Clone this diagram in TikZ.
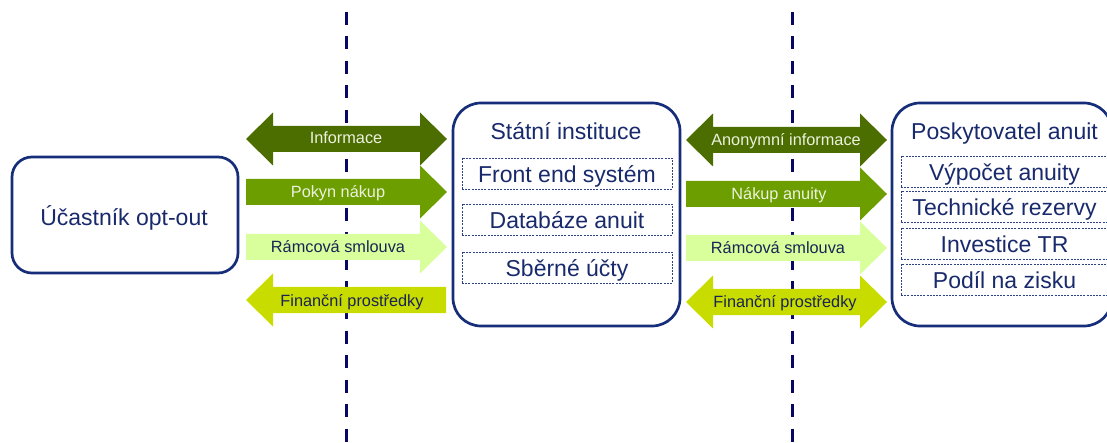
\documentclass[tikz,border=0pt]{standalone}
\usepackage{fontspec}
\setmainfont{Liberation Sans}
\definecolor{boxnavy}{RGB}{22,46,122}
\definecolor{txtnavy}{RGB}{25,42,108}
\definecolor{linenavy}{RGB}{8,8,100}
\definecolor{subnavy}{RGB}{45,65,135}
\definecolor{gdark}{RGB}{76,110,0}
\definecolor{gmid}{RGB}{108,158,0}
\definecolor{glight}{RGB}{216,255,155}
\definecolor{gyellow}{RGB}{200,220,0}
\definecolor{lbllight}{RGB}{236,242,222}
\definecolor{lbldark}{RGB}{25,35,85}

% arrow outlines: shaft half height 13, head half height 26.5, head length 27
\newcommand\rightarr[4]{% x start, x tip, y centre, colour
  \fill[#4] (#1,#3-13) -- (#2-27,#3-13) -- (#2-27,#3-26.5) -- (#2,#3)
    -- (#2-27,#3+26.5) -- (#2-27,#3+13) -- (#1,#3+13) -- cycle;}
\newcommand\leftarr[4]{% x tip, x end, y centre, colour
  \fill[#4] (#2,#3-13) -- (#1+27,#3-13) -- (#1+27,#3-26.5) -- (#1,#3)
    -- (#1+27,#3+26.5) -- (#1+27,#3+13) -- (#2,#3+13) -- cycle;}
\newcommand\botharr[4]{% x left tip, x right tip, y centre, colour
  \fill[#4] (#1,#3) -- (#1+27,#3-26.5) -- (#1+27,#3-13) -- (#2-27,#3-13)
    -- (#2-27,#3-26.5) -- (#2,#3) -- (#2-27,#3+26.5) -- (#2-27,#3+13)
    -- (#1+27,#3+13) -- (#1+27,#3+26.5) -- cycle;}

\begin{document}
\begin{tikzpicture}[x=1pt,y=-1pt,
  bigbox/.style={draw=boxnavy, line width=2.7pt, rounded corners=28pt, fill=white},
  subbox/.style={draw=subnavy, line width=0.8pt, dash pattern=on 2pt off 1.2pt,
    inner sep=0pt, text=txtnavy, font=\fontsize{23}{27}\selectfont,
    text height=19pt, text depth=0pt},
  boxtxt/.style={text=txtnavy, font=\fontsize{23}{27}\selectfont, inner sep=0pt,
    text height=19pt, text depth=0pt},
  lbl/.style={font=\fontsize{16.3}{19}\selectfont, inner sep=0pt,
    text height=12pt, text depth=0pt},
  lblw/.style={lbl, text=lbllight},
  lbld/.style={lbl, text=lbldark},
  divider/.style={draw=linenavy, line width=3pt, dash pattern=on 13pt off 11.5pt}
]
\useasboundingbox (0,0) rectangle (1107,443);

% vertical dividers
\coordinate (d1top) at (346,12);
\coordinate (d1bot) at (346,443);
\coordinate (d2top) at (792,12);
\coordinate (d2bot) at (792,443);
\draw[divider] (d1top) -- (d1bot);
\draw[divider] (d2top) -- (d2bot);

% participant box
\node[bigbox, rounded corners=20pt, minimum width=226, minimum height=116] (ucastbox) at (125,215) {};
\node[boxtxt] (ucast) at (124,216) {Účastník opt-out};

% state institution box
\node[bigbox, minimum width=227, minimum height=223] (statbox) at (566.5,214.5) {};
\node[boxtxt] (stat) at (566,130.5) {Státní instituce};
\node[subbox, minimum width=210, minimum height=31] (front) at (567,173.5) {Front end systém};
\node[subbox, minimum width=210, minimum height=31] (datab) at (567,219.5) {Databáze anuit};
\node[subbox, minimum width=210, minimum height=31] (sberne) at (567,267.5) {Sběrné účty};

% annuity provider box (runs off the right edge)
\node[bigbox, minimum width=220, minimum height=223] (poskbox) at (1002,214.5) {};
\node[boxtxt] (posk) at (1004.5,130) {Poskytovatel anuit};
\node[subbox, minimum width=207, minimum height=31] (vypocet) at (1004.5,171.5) {Výpočet anuity};
\node[subbox, minimum width=207, minimum height=31] (techn) at (1004.5,206.5) {Technické rezervy};
\node[subbox, minimum width=207, minimum height=31] (invest) at (1004.5,243.5) {Investice TR};
\node[subbox, minimum width=207, minimum height=31] (podil) at (1004.5,279.5) {Podíl na zisku};

% flows between participant and institution
\botharr{246}{447}{139}{gdark}
\node[lblw] (info1) at (346,138) {Informace};
\rightarr{246}{447}{192}{gmid}
\node[lblw] (pokyn) at (338,192) {Pokyn nákup};
\rightarr{246}{447}{247}{glight}
\node[lbld] (ramec1) at (338,247) {Rámcová smlouva};
\leftarr{246}{446}{300}{gyellow}
\node[lbld] (fin1) at (352,300) {Finanční prostředky};

% flows between institution and provider
\botharr{686}{887}{140}{gdark}
\node[lblw] (info2) at (786,140) {Anonymní informace};
\rightarr{686}{887}{194}{gmid}
\node[lblw] (nakup) at (779,194) {Nákup anuity};
\rightarr{686}{887}{248}{glight}
\node[lbld] (ramec2) at (778,248) {Rámcová smlouva};
\botharr{686}{887}{302}{gyellow}
\node[lbld] (fin2) at (785,302) {Finanční prostředky};
\end{tikzpicture}
\end{document}
